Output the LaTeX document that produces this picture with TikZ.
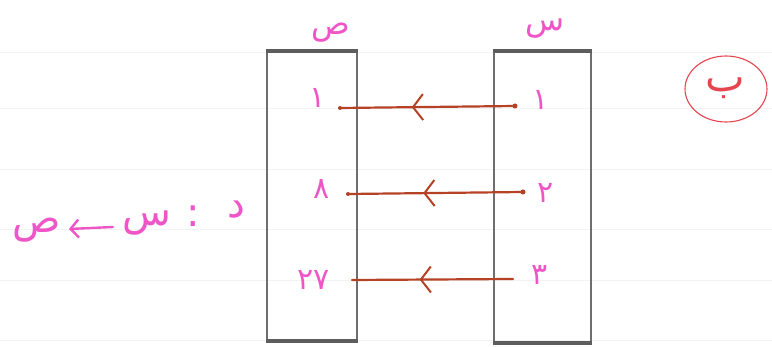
\documentclass[tikz,border=0pt]{standalone}
\usepackage{fontspec}
\newfontfamily\arabicfont[Script=Arabic]{DejaVu Sans}
\TeXXeTstate=1
\usetikzlibrary{arrows.meta,decorations.markings,shapes.geometric}
\definecolor{pinkink}{RGB}{240,85,200}
\definecolor{redink}{RGB}{228,70,80}
\definecolor{arrowink}{RGB}{182,66,38}
\definecolor{boxgray}{RGB}{110,110,110}
\definecolor{ruleline}{RGB}{243,243,243}
\tikzset{
  setbox/.style={draw=boxgray, line width=1.5pt, inner sep=0pt},
  boxedge/.style={draw=boxgray!85!black, line width=4pt},
  num/.style={text=pinkink, font=\arabicfont\fontsize{30}{32}\selectfont, inner sep=0pt},
  title/.style={text=pinkink, font=\arabicfont\fontsize{32}{34}\selectfont, inner sep=0pt},
  fnletter/.style={text=pinkink, font=\arabicfont\fontsize{40}{42}\selectfont, inner sep=0pt},
  conn/.style={draw=arrowink, line width=2.2pt, line cap=round,
    postaction={decorate},
    decoration={markings, mark=at position #1 with {\arrow[arrowink, line width=2pt]{Straight Barb[length=10pt,width=26pt]}}}},
  maparrow/.style={draw=pinkink, line width=2.4pt, line cap=round, -{Straight Barb[length=8pt,width=18pt,line width=2.4pt]}},
  enddot/.style={fill=arrowink, circle, inner sep=0pt, minimum size=5pt},
  rule/.style={draw=ruleline, line width=0.8pt}
}
\begin{document}
\begin{tikzpicture}[x=1pt,y=-1pt]
\useasboundingbox (0,0) rectangle (772,347);
\fill[white] (0,0) rectangle (772,347);
% faint notebook rules
\foreach \yy in {52,108,169,229,280,340} \draw[rule] (0,\yy) -- (772,\yy);

% sets
\node[setbox, minimum width=90pt, minimum height=288pt] (L) at (312,196) {};
\node[setbox, minimum width=97pt, minimum height=290pt] (R) at (542.5,197) {};
\draw[boxedge] (L.north west) -- (L.north east);
\draw[boxedge] (L.south west) -- (L.south east);
\draw[boxedge] (R.north west) -- (R.north east);
\draw[boxedge] (R.south west) -- (R.south east);

% titles
\node[title] (tL) at (331,33) {ص};
\node[title] (tR) at (545,29) {س};

% elements
\node[num] (l1) at (318,98) {١};
\node[num] (l2) at (322,189) {٨};
\node[num] (l3) at (314,280) {٢٧};
\node[num] (r1) at (541,100) {١};
\node[num] (r2) at (546,193) {٢};
\node[num] (r3) at (540,275) {٣};

% arrows
\coordinate (a1s) at (515,106);
\coordinate (a1e) at (340,108);
\coordinate (a2s) at (523,192);
\coordinate (a2e) at (348,194);
\coordinate (a3s) at (513,279);
\coordinate (a3e) at (352,280);
\draw[conn=0.59] (a1s) -- (a1e);
\draw[conn=0.57] (a2s) -- (a2e);
\draw[conn=0.58] (a3s) -- (a3e);
\node[enddot] (d1) at (a1s) {};
\node[enddot] (d2) at (a2s) {};
\node[enddot, minimum size=4pt] (d3) at (a1e) {};
\node[enddot, minimum size=4pt] (d4) at (a2e) {};

% function notation  d : s -> c
\node[fnletter] (fnY) at (37,230) {ص};
\node[fnletter] (fnX) at (147,223) {س};
\node[fnletter] (fnC) at (193,216) {:};
\node[fnletter] (fnD) at (236,210) {د};
\coordinate (mapS) at (113,227);
\coordinate (mapE) at (69,229);
\draw[maparrow] (mapS) -- (mapE);

% circled label
\node[draw=redink, line width=1.1pt, ellipse, minimum width=82pt, minimum height=66pt, inner sep=0pt] (circ) at (726,89) {};
\node[text=redink, font=\arabicfont\fontsize{42}{44}\selectfont, inner sep=0pt] (lb) at (725,88) {ب};
\end{tikzpicture}
\end{document}
